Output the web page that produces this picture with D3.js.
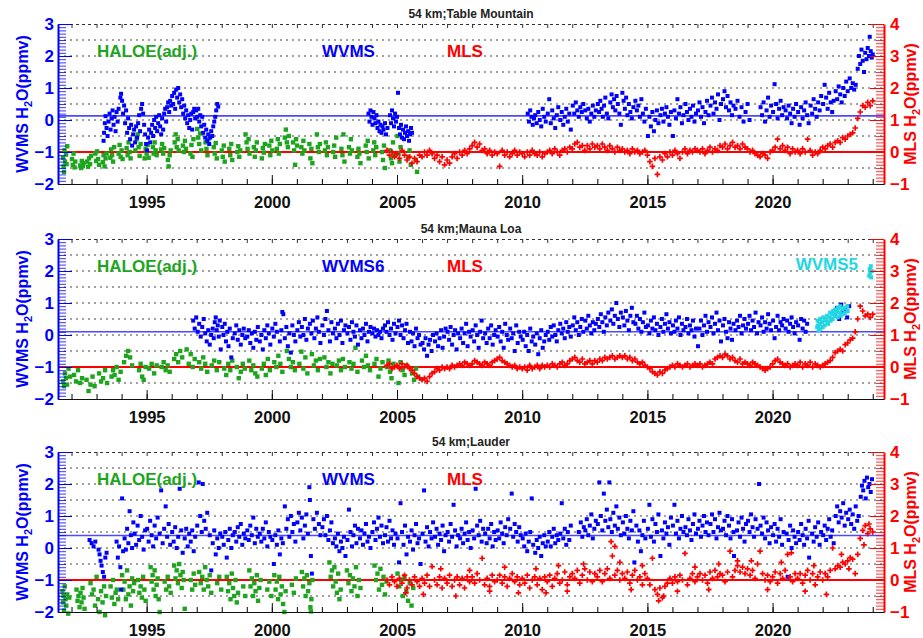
<!DOCTYPE html>
<html>
<head>
<meta charset="utf-8">
<script src="https://cdn.jsdelivr.net/npm/d3@7"></script>
<style>
  body { margin: 0; background: #fff; }
  svg { display: block; font-family: "Liberation Sans", Arial, Helvetica, sans-serif; font-weight: bold; }
</style>
</head>
<body>
<svg id="chart" width="923" height="638"></svg>
<script>
// ---------------------------------------------------------------------------
// Water vapour anomalies at 54 km: ground-based WVMS, HALOE (adjusted) and MLS.
// WVMS / HALOE values are on the left axis (ppmv), MLS on the right axis (ppmv).
// ---------------------------------------------------------------------------

const STATIONS = ["54 km;Table Mountain", "54 km;Mauna Loa", "54 km;Lauder"];
const WVMS_LABELS = ["WVMS", "WVMS6", "WVMS"];
const WVMS_MEANS = [0.13, 0.10, 0.39];     // long-term WVMS mean (left axis)
const MLS_REFERENCE = 0;                   // MLS zero line (right axis)
const X_TICKS = [1995, 2000, 2005, 2010, 2015, 2020];
const LEFT_TICKS = [-2, -1, 0, 1, 2, 3];
const RIGHT_TICKS = [-1, 0, 1, 2, 3, 4];
const GRID_LEVELS = [-1.5, -1, -0.5, 0, 0.5, 1, 1.5, 2, 2.5];

// Sampling dates shared by the MLS series
const MLS_DATES = [2004.6,2004.7,2004.8,2004.9,
2005.0,2005.1,2005.2,2005.3,2005.4,2005.5,2005.6,2005.7,2005.8,2005.9,
2006.0,2006.1,2006.2,2006.3,2006.4,2006.5,2006.6,2006.7,2006.8,2006.9,
2007.0,2007.1,2007.2,2007.3,2007.4,2007.5,2007.6,2007.7,2007.8,2007.9,
2008.0,2008.1,2008.2,2008.3,2008.4,2008.5,2008.6,2008.7,2008.8,2008.9,
2009.0,2009.1,2009.2,2009.3,2009.4,2009.5,2009.6,2009.7,2009.8,2009.9,
2010.0,2010.1,2010.2,2010.3,2010.4,2010.5,2010.6,2010.7,2010.8,2010.9,
2011.0,2011.1,2011.2,2011.3,2011.4,2011.5,2011.6,2011.7,2011.8,2011.9,
2012.0,2012.1,2012.2,2012.3,2012.4,2012.5,2012.6,2012.7,2012.8,2012.9,
2013.0,2013.1,2013.2,2013.3,2013.4,2013.5,2013.6,2013.7,2013.8,2013.9,
2014.0,2014.1,2014.2,2014.3,2014.4,2014.5,2014.6,2014.7,2014.8,2014.9,
2015.0,2015.1,2015.2,2015.3,2015.4,2015.5,2015.6,2015.7,2015.8,2015.9,
2016.0,2016.1,2016.2,2016.3,2016.4,2016.5,2016.6,2016.7,2016.8,2016.9,
2017.0,2017.1,2017.2,2017.3,2017.4,2017.5,2017.6,2017.7,2017.8,2017.9,
2018.0,2018.1,2018.2,2018.3,2018.4,2018.5,2018.6,2018.7,2018.8,2018.9,
2019.0,2019.1,2019.2,2019.3,2019.4,2019.5,2019.6,2019.7,2019.8,2019.9,
2020.0,2020.1,2020.2,2020.3,2020.4,2020.5,2020.6,2020.7,2020.8,2020.9,
2021.0,2021.1,2021.2,2021.3,2021.4,2021.5,2021.6,2021.7,2021.8,2021.9,
2022.0,2022.1,2022.2,2022.3,2022.4,2022.5,2022.6,2022.7,2022.8,2022.9,
2023.0,2023.1,2023.2,2023.3,2023.4,2023.5,2023.6,2023.7,2023.8,2023.9,
2024.0];

// ---------------- Table Mountain ----------------
const TM_HALOE = [
[1991.66,-1.18],[1991.68,-1.45],[1991.70,-1.62],[1991.72,-0.95],[1991.74,-1.30],[1991.78,-1.08],[1991.80,-1.38],[1991.83,-0.82],
[1992.02,-1.22],[1992.05,-1.40],[1992.08,-1.05],[1992.12,-1.48],[1992.15,-1.30],
[1992.35,-1.42],[1992.38,-1.50],[1992.41,-1.28],[1992.45,-1.44],[1992.48,-1.35],
[1992.62,-1.30],[1992.66,-1.46],[1992.70,-1.20],[1992.74,-1.38],[1992.78,-1.12],
[1992.95,-1.05],[1992.98,-1.28],[1993.02,-0.98],[1993.06,-1.22],[1993.10,-1.40],
[1993.25,-1.32],[1993.28,-1.10],[1993.32,-1.45],[1993.36,-1.20],[1993.40,-1.05],
[1993.55,-1.18],[1993.58,-0.92],[1993.62,-1.10],[1993.66,-1.30],[1993.70,-0.85],
[1993.88,-1.05],[1993.92,-0.78],[1993.96,-1.15],[1994.00,-0.95],[1994.04,-1.22],
[1994.20,-0.88],[1994.24,-1.10],[1994.28,-0.70],[1994.32,-1.00],[1994.36,-1.20],
[1994.55,-0.95],[1994.60,-0.60],[1994.64,-0.45],[1994.68,-0.85],[1994.72,-1.12],[1994.76,-0.75],
[1994.92,-1.20],[1994.96,-0.90],[1995.00,-1.05],[1995.04,-0.78],[1995.08,-1.18],
[1995.25,-0.85],[1995.28,-1.05],[1995.32,-0.70],[1995.36,-0.95],[1995.40,-1.10],
[1995.58,-0.92],[1995.62,-0.75],[1995.66,-1.05],[1995.70,-0.88],
[1995.85,-1.25],[1995.88,-1.45],[1995.92,-1.10],[1995.96,-0.95],
[1996.12,-0.70],[1996.16,-0.45],[1996.20,-0.85],[1996.24,-0.60],[1996.28,-0.95],
[1996.45,-0.80],[1996.49,-1.00],[1996.53,-0.65],[1996.57,-0.90],
[1996.75,-1.05],[1996.79,-0.78],[1996.83,-1.15],[1996.87,-0.60],
[1997.02,-0.28],[1997.06,-0.55],[1997.10,-0.75],[1997.14,-0.42],[1997.18,-0.95],
[1997.35,-0.70],[1997.39,-0.90],[1997.43,-1.10],[1997.47,-0.60],
[1997.68,-0.85],[1997.72,-1.05],[1997.76,-0.72],[1997.80,-1.20],
[1998.00,-0.95],[1998.04,-1.15],[1998.08,-0.80],[1998.12,-1.30],
[1998.30,-0.90],[1998.34,-1.10],[1998.38,-0.75],[1998.42,-1.25],
[1998.62,-1.00],[1998.66,-0.82],[1998.70,-1.15],[1998.74,-0.95],
[1998.95,-0.45],[1998.99,-0.70],[1999.03,-0.90],[1999.07,-0.60],[1999.11,-1.05],
[1999.28,-0.85],[1999.32,-1.15],[1999.36,-0.95],[1999.40,-0.70],
[1999.60,-1.20],[1999.64,-0.88],[1999.68,-1.02],[1999.72,-0.75],
[1999.90,-0.80],[1999.94,-1.10],[1999.98,-0.65],[2000.02,-0.95],
[2000.20,-0.90],[2000.24,-0.60],[2000.28,-1.05],[2000.32,-0.75],
[2000.52,-0.55],[2000.56,-0.30],[2000.60,-0.70],[2000.64,-0.85],[2000.68,-0.50],
[2000.85,-0.70],[2000.89,-0.95],[2000.93,-1.40],[2000.97,-0.60],[2001.01,-0.80],
[2001.18,-0.85],[2001.22,-1.05],[2001.26,-0.65],[2001.30,-0.95],
[2001.50,-0.75],[2001.54,-1.20],[2001.58,-0.90],[2001.62,-1.35],
[2001.80,-0.45],[2001.84,-0.85],[2001.88,-1.00],[2001.92,-0.75],
[2002.12,-0.95],[2002.16,-0.70],[2002.20,-1.10],[2002.24,-0.85],
[2002.45,-1.00],[2002.49,-0.80],[2002.53,-1.15],[2002.57,-0.55],
[2002.78,-0.90],[2002.82,-1.10],[2002.86,-0.45],[2002.90,-1.30],
[2003.08,-0.85],[2003.12,-1.05],[2003.16,-0.60],[2003.20,-0.95],
[2003.42,-1.15],[2003.46,-0.90],[2003.50,-1.05],[2003.54,-1.35],
[2003.75,-0.80],[2003.79,-1.00],[2003.83,-0.65],[2003.87,-1.20],
[2004.05,-0.95],[2004.09,-0.70],[2004.13,-1.10],[2004.17,-0.85],
[2004.40,-1.00],[2004.44,-1.25],[2004.48,-0.80],[2004.52,-1.50],
[2004.72,-0.95],[2004.76,-1.20],[2004.80,-1.35],[2004.84,-0.70],[2004.88,-1.10],
[2005.02,-0.50],[2005.06,-1.05],[2005.10,-1.30],[2005.14,-0.85],
[2005.45,-1.15],[2005.50,-0.95],[2005.55,-1.40],[2005.75,-1.25],[2005.80,-1.62]];

const TM_WVMS = [
[1993.28,-0.65],[1993.30,-0.40],[1993.33,-0.10],[1993.36,0.12],[1993.40,-0.25],[1993.44,-0.50],[1993.48,-0.05],[1993.52,0.20],
[1993.56,-0.30],[1993.60,0.05],[1993.64,0.30],[1993.68,-0.15],[1993.72,0.10],[1993.76,-0.35],[1993.80,0.25],[1993.84,-0.05],
[1993.88,0.35],[1993.95,0.70],[1993.98,0.82],[1994.02,0.60],[1994.06,0.20],[1994.10,0.45],[1994.14,-0.10],[1994.18,0.30],
[1994.22,-0.40],[1994.26,0.05],[1994.30,-0.25],[1994.34,-0.60],[1994.38,-0.15],[1994.42,-0.80],[1994.46,-0.45],[1994.50,-0.30],
[1994.54,-0.70],[1994.58,-0.20],[1994.62,-0.55],[1994.66,-0.10],[1994.70,0.15],[1994.74,-0.35],[1994.78,0.35],[1994.82,0.50],
[1994.86,0.20],[1994.90,-0.15],[1994.94,-0.45],[1994.98,-0.75],[1995.02,-0.95],[1995.06,-0.55],[1995.10,-0.30],[1995.14,-0.70],
[1995.18,-0.40],[1995.22,-0.15],[1995.26,-0.50],[1995.30,0.00],[1995.34,-0.25],[1995.38,0.10],[1995.42,-0.35],[1995.46,-0.10],
[1995.50,0.15],[1995.54,-0.20],[1995.58,-0.45],[1995.62,0.05],[1995.66,-0.30],[1995.70,0.20],[1995.74,0.35],[1995.78,-0.05],
[1995.82,0.40],[1995.86,0.55],[1995.90,0.25],[1995.94,0.60],[1995.98,0.45],[1996.02,0.75],[1996.06,0.50],[1996.10,0.85],
[1996.14,0.35],[1996.18,0.95],[1996.22,0.70],[1996.26,1.00],[1996.30,0.55],[1996.34,0.80],[1996.38,0.40],[1996.42,0.65],
[1996.46,0.20],[1996.50,0.45],[1996.54,0.05],[1996.58,0.30],[1996.62,-0.10],[1996.66,0.15],[1996.70,-0.25],[1996.74,0.00],
[1996.78,0.20],[1996.82,-0.30],[1996.86,0.25],[1996.90,0.35],[1996.94,0.05],[1996.98,0.30],[1997.02,0.10],[1997.06,0.35],
[1997.10,-0.05],[1997.14,0.15],[1997.18,-0.20],[1997.22,0.10],[1997.26,-0.40],[1997.30,-0.15],[1997.34,-0.55],[1997.38,-0.30],
[1997.42,-0.65],[1997.46,-0.45],[1997.50,-0.75],[1997.54,-0.55],[1997.58,-0.35],[1997.62,-0.50],[1997.66,-0.20],[1997.70,-0.05],
[1997.74,0.10],[1997.78,0.30],[1997.82,0.50],[1997.86,0.42],
[2003.86,0.20],[2003.90,-0.05],[2003.94,0.30],[2003.98,0.10],[2004.02,-0.15],[2004.06,0.25],[2004.10,0.05],[2004.14,-0.10],
[2004.18,0.15],[2004.22,-0.25],[2004.26,-0.05],[2004.30,-0.35],[2004.34,-0.15],[2004.38,-0.40],[2004.42,-0.20],[2004.46,-0.30],
[2004.52,-0.10],[2004.56,-0.45],[2004.62,-0.25],[2004.72,0.15],[2004.76,-0.10],[2004.80,0.30],[2004.84,0.05],[2004.88,-0.20],
[2004.92,0.20],[2004.96,-0.05],[2005.00,0.10],[2005.04,0.85],[2005.08,-0.25],[2005.12,-0.45],[2005.16,-0.15],[2005.20,-0.55],
[2005.24,-0.30],[2005.28,-0.60],[2005.32,-0.40],[2005.36,-0.20],[2005.40,-0.50],[2005.44,-0.35],[2005.48,-0.65],[2005.52,-0.45],
[2005.56,-0.25],[2005.60,-0.40],
[2010.22,0.20],[2010.27,-0.05],[2010.32,0.30],[2010.37,0.10],[2010.42,-0.15],[2010.47,0.05],
[2010.52,0.15],[2010.58,-0.10],[2010.64,0.25],[2010.70,0.00],[2010.76,-0.20],[2010.82,0.35],[2010.88,0.10],[2010.94,-0.05],
[2011.02,0.20],[2011.08,0.65],[2011.14,-0.10],[2011.20,0.30],[2011.26,0.05],[2011.32,-0.25],[2011.38,0.15],[2011.44,0.40],
[2011.52,0.00],[2011.58,0.25],[2011.64,-0.15],[2011.70,0.10],[2011.76,0.35],[2011.82,-0.05],[2011.88,0.20],[2011.94,-0.30],
[2012.02,0.45],[2012.08,0.20],[2012.14,0.55],[2012.20,0.30],[2012.26,0.10],[2012.32,0.40],[2012.38,0.25],[2012.44,0.50],
[2012.52,0.30],[2012.58,0.05],[2012.64,0.35],[2012.70,-0.05],[2012.76,0.20],[2012.82,0.45],[2012.88,0.10],[2012.94,0.30],
[2013.02,0.50],[2013.07,0.25],[2013.12,0.60],[2013.17,0.35],[2013.22,0.10],[2013.27,0.45],[2013.32,0.70],[2013.38,0.20],[2013.44,0.05],
[2013.52,0.55],[2013.57,0.80],[2013.62,0.40],[2013.67,0.65],[2013.72,0.30],[2013.77,0.75],[2013.82,0.50],[2013.88,0.20],[2013.94,-0.15],
[2014.00,0.85],[2014.05,0.60],[2014.10,0.35],[2014.15,0.70],[2014.20,0.15],[2014.26,0.50],[2014.32,0.25],[2014.38,0.05],[2014.44,0.40],
[2014.52,0.60],[2014.58,0.30],[2014.64,0.45],[2014.70,0.10],[2014.76,0.65],[2014.82,0.20],[2014.88,-0.05],[2014.94,0.35],
[2015.02,-0.50],[2015.08,0.10],[2015.14,-0.20],[2015.20,0.25],[2015.26,-0.35],[2015.32,0.00],[2015.38,0.30],[2015.44,-0.10],
[2015.52,0.15],[2015.58,0.35],[2015.64,-0.05],[2015.70,0.20],[2015.76,0.40],[2015.82,0.10],[2015.88,-0.15],[2015.94,0.25],
[2016.02,-0.50],[2016.08,0.30],[2016.14,0.05],[2016.20,0.65],[2016.26,0.20],[2016.32,0.40],[2016.38,-0.10],[2016.44,0.15],
[2016.52,0.50],[2016.58,0.25],[2016.64,0.00],[2016.70,0.35],[2016.76,0.10],[2016.82,0.45],[2016.88,-0.05],[2016.94,0.20],
[2017.02,0.30],[2017.08,0.55],[2017.14,0.10],[2017.20,0.40],[2017.26,-0.10],[2017.32,0.25],[2017.38,0.60],[2017.44,0.15],
[2017.52,0.45],[2017.58,0.70],[2017.64,0.20],[2017.70,0.55],[2017.76,0.35],[2017.82,0.80],[2017.88,0.00],[2017.94,0.50],
[2018.02,0.65],[2018.08,0.90],[2018.14,0.40],[2018.20,0.75],[2018.26,0.30],[2018.32,0.55],[2018.38,0.15],[2018.44,0.45],
[2018.52,0.35],[2018.60,0.60],[2018.68,0.10],[2018.76,0.40],[2018.84,-0.05],[2018.92,0.25],[2019.00,0.50],[2019.08,0.00],
[2019.52,0.40],[2019.58,0.15],[2019.64,0.55],[2019.70,-0.05],[2019.76,0.30],[2019.82,0.70],[2019.88,0.10],[2019.94,0.45],
[2020.02,0.25],[2020.08,1.12],[2020.14,0.50],[2020.20,0.05],[2020.26,0.35],[2020.32,0.60],[2020.38,0.15],[2020.44,0.40],
[2020.52,0.30],[2020.58,0.05],[2020.64,0.45],[2020.70,0.20],[2020.76,-0.10],[2020.82,0.35],[2020.88,0.10],[2020.94,0.50],
[2021.02,0.25],[2021.08,-0.15],[2021.14,0.40],[2021.20,0.05],[2021.26,0.30],[2021.32,0.55],[2021.38,0.15],[2021.44,-0.10],
[2021.52,0.45],[2021.58,0.20],[2021.64,0.65],[2021.70,0.35],[2021.76,0.10],[2021.82,0.55],[2021.88,0.30],[2021.94,0.75],
[2022.02,0.50],[2022.08,1.10],[2022.14,0.70],[2022.20,0.35],[2022.26,0.85],[2022.32,0.55],[2022.38,0.25],[2022.44,0.60],
[2022.52,0.90],[2022.58,0.65],[2022.64,1.05],[2022.70,0.80],[2022.76,0.55],[2022.82,1.00],[2022.88,0.75],[2022.94,1.20],[2023.00,0.90],
[2023.08,1.30],[2023.14,1.00],[2023.20,1.15],[2023.26,0.95],[2023.32,1.10],
[2023.40,1.60],[2023.45,2.00],[2023.50,1.75],[2023.55,2.20],[2023.60,1.85],[2023.65,1.50],
[2023.70,2.10],[2023.75,1.90],[2023.80,2.25],[2023.85,2.00],[2023.88,2.60],[2023.92,2.15],[2023.96,1.95],[2024.00,2.05]];

const TM_MLS = [
0.05,-0.10,0.00,-0.15,
-0.05,-0.20,0.05,-0.10,-0.25,-0.15,-0.35,-0.20,-0.30,-0.10,
-0.15,0.00,-0.10,0.05,-0.05,-0.20,-0.10,-0.30,-0.15,-0.40,
-0.25,-0.35,-0.15,-0.05,-0.20,0.00,-0.10,0.05,-0.05,0.10,
0.20,0.30,0.15,0.25,0.05,0.10,-0.05,0.05,-0.10,0.00,
-0.05,-0.45,0.05,-0.10,0.00,-0.15,-0.05,0.05,-0.10,0.00,
-0.05,-0.15,0.00,-0.10,0.05,-0.05,-0.10,0.00,-0.15,-0.05,
0.00,0.05,-0.05,0.10,0.00,-0.10,0.05,0.10,0.00,0.15,
0.10,0.25,0.30,0.15,0.20,0.05,0.20,0.10,0.25,0.15,
0.20,0.10,0.25,0.15,0.05,0.20,0.10,0.00,0.15,0.05,
0.10,0.00,0.05,-0.05,0.10,0.00,0.05,-0.05,0.00,0.05,
-0.10,-0.30,-0.45,-0.20,-0.70,-0.15,-0.25,-0.05,-0.15,0.00,
-0.10,0.05,-0.05,-0.20,0.00,0.10,-0.05,0.05,0.00,0.10,
0.05,0.00,0.10,-0.05,0.05,0.15,0.00,0.10,0.05,0.20,
0.15,0.25,0.10,0.20,0.30,0.15,0.20,0.10,0.25,0.15,
0.10,0.00,0.05,-0.05,-0.10,-0.15,-0.05,-0.10,-0.20,0.00,
0.05,0.15,0.40,0.10,0.20,0.05,0.15,-0.05,0.10,0.00,
0.05,-0.05,0.10,0.00,0.40,0.05,-0.10,0.00,-0.05,0.05,
0.15,0.10,0.20,0.25,0.15,0.30,0.35,0.30,0.45,0.40,
0.50,0.55,0.60,0.75,1.05,1.25,1.45,1.40,1.55,1.45,
1.60];

// ---------------- Mauna Loa ----------------
const ML_HALOE = [
[1991.66,-1.45],[1991.70,-1.60],[1991.74,-1.20],[1991.78,-1.35],[1991.82,-1.55],[1991.88,-1.05],[1991.94,-1.30],
[1992.10,-1.25],[1992.18,-1.45],[1992.26,-1.10],[1992.34,-1.50],[1992.42,-1.35],
[1992.60,-1.40],[1992.68,-1.75],[1992.76,-1.55],[1992.84,-1.30],[1992.92,-1.60],
[1993.10,-1.20],[1993.18,-1.45],[1993.26,-1.35],[1993.34,-1.10],[1993.42,-1.50],
[1993.60,-1.30],[1993.66,-1.10],[1993.72,-1.25],[1993.80,-1.00],[1993.88,-1.40],[1993.96,-1.15],
[1994.10,-0.85],[1994.18,-0.65],[1994.26,-0.50],[1994.34,-0.70],[1994.42,-0.95],
[1994.70,-1.10],[1994.76,-0.90],[1994.82,-1.30],[1994.88,-1.40],[1994.96,-1.00],
[1995.10,-1.05],[1995.20,-0.90],[1995.30,-1.20],[1995.40,-0.95],
[1995.60,-1.00],[1995.68,-0.85],[1995.76,-1.10],[1995.84,-0.95],[1995.92,-1.15],
[1996.10,-0.75],[1996.18,-0.60],[1996.26,-0.85],[1996.34,-0.50],[1996.42,-0.70],
[1996.60,-0.45],[1996.68,-0.90],[1996.76,-0.60],[1996.84,-1.00],[1996.92,-0.75],
[1997.10,-0.85],[1997.18,-1.05],[1997.26,-0.70],[1997.34,-0.90],[1997.42,-1.15],
[1997.60,-0.95],[1997.70,-0.80],[1997.80,-1.10],[1997.90,-0.85],
[1998.10,-1.05],[1998.18,-1.25],[1998.26,-0.90],[1998.34,-1.10],[1998.42,-0.80],
[1998.60,-1.00],[1998.68,-1.35],[1998.76,-1.15],[1998.84,-0.90],[1998.92,-1.05],
[1999.10,-0.80],[1999.18,-1.10],[1999.26,-0.95],[1999.34,-1.20],[1999.42,-1.30],
[1999.60,-1.05],[1999.68,-0.90],[1999.76,-1.25],[1999.84,-0.75],[1999.92,-1.10],
[2000.10,-0.85],[2000.18,-1.00],[2000.26,-0.65],[2000.34,-0.90],[2000.42,-1.15],
[2000.60,-0.50],[2000.68,-0.75],[2000.76,-1.00],[2000.84,-0.85],[2000.92,-1.10],
[2001.10,-0.90],[2001.18,-0.52],[2001.26,-1.05],[2001.34,-0.70],[2001.42,-1.20],
[2001.60,-0.60],[2001.68,-0.95],[2001.76,-0.80],[2001.84,-1.10],[2001.92,-0.75],
[2002.10,-0.70],[2002.18,-1.00],[2002.26,-0.85],[2002.34,-1.20],[2002.42,-0.90],
[2002.60,-0.95],[2002.68,-0.80],[2002.76,-1.10],[2002.84,-0.75],[2002.92,-1.00],
[2003.10,-0.85],[2003.18,-1.05],[2003.26,-0.90],[2003.34,-0.40],[2003.42,-1.15],
[2003.60,-0.80],[2003.68,-1.00],[2003.76,-0.65],[2003.84,-0.95],[2003.92,-1.10],
[2004.10,-0.90],[2004.18,-0.75],[2004.26,-1.30],[2004.34,-1.05],[2004.42,-0.85],
[2004.60,-1.00],[2004.66,-0.80],[2004.72,-1.15],[2004.78,-1.35],[2004.86,-0.90],
[2005.06,-1.50],[2005.14,-0.85],[2005.22,-1.10],[2005.30,-1.25],[2005.38,-0.95],
[2005.60,-1.20],[2005.68,-1.40],[2005.76,-1.05],[2005.84,-1.30]];

const ML_WVMS6 = [
[1996.86,0.45],[1996.92,0.20],[1996.98,0.55],[1997.04,0.10],[1997.10,0.35],[1997.16,-0.05],[1997.22,0.25],[1997.28,0.50],
[1997.34,0.05],[1997.40,-0.20],[1997.46,0.15],[1997.52,-0.30],[1997.58,0.00],[1997.64,0.20],[1997.68,-0.10],
[1997.72,0.40],[1997.76,0.55],[1997.80,0.15],[1997.84,0.30],[1997.88,-0.05],[1997.92,0.45],[1997.96,-0.45],
[1998.02,0.25],[1998.07,0.00],[1998.12,0.35],[1998.17,-0.20],[1998.22,0.10],[1998.27,-0.35],[1998.32,0.20],[1998.38,-0.70],[1998.44,-0.10],
[1998.52,0.05],[1998.58,0.30],[1998.64,-0.15],[1998.70,0.15],[1998.76,-0.30],[1998.82,0.00],[1998.88,0.20],[1998.94,-0.10],
[1999.02,-0.05],[1999.08,0.15],[1999.14,-0.25],[1999.20,0.05],[1999.26,-0.40],[1999.32,0.10],[1999.38,-0.15],[1999.44,0.25],
[1999.52,-0.20],[1999.58,0.00],[1999.64,-0.45],[1999.70,0.15],[1999.76,-0.10],[1999.82,0.30],[1999.88,0.05],[1999.94,-0.30],
[2000.02,0.20],[2000.08,-0.05],[2000.14,0.35],[2000.20,0.10],[2000.42,0.72],[2000.46,0.65],[2000.32,-0.20],[2000.38,0.15],
[2000.52,-0.10],[2000.58,0.25],[2000.64,-0.35],[2000.70,0.05],[2000.76,-0.55],[2000.82,0.30],[2000.88,0.00],[2000.94,-0.20],
[2001.02,0.15],[2001.08,0.40],[2001.14,-0.05],[2001.20,0.25],[2001.26,0.00],[2001.32,0.50],[2001.38,-0.15],[2001.44,0.20],
[2001.52,0.35],[2001.58,0.05],[2001.64,0.45],[2001.70,-0.10],[2001.76,0.20],[2001.82,0.55],[2001.88,0.10],[2001.94,-0.25],
[2002.02,0.30],[2002.08,0.00],[2002.14,0.50],[2002.20,0.75],[2002.26,0.15],[2002.32,-0.20],[2002.38,0.40],[2002.44,0.05],
[2002.52,0.20],[2002.58,-0.10],[2002.64,0.35],[2002.70,0.00],[2002.76,0.45],[2002.82,-0.25],[2002.88,0.15],[2002.94,0.30],
[2003.02,0.05],[2003.08,0.25],[2003.14,-0.15],[2003.20,0.40],[2003.26,0.10],[2003.32,-0.05],[2003.38,0.30],[2003.44,-0.30],
[2003.52,0.15],[2003.58,-0.10],[2003.64,0.20],[2003.70,0.00],[2003.76,0.35],[2003.82,-0.20],[2003.88,0.10],[2003.94,0.25],
[2004.02,0.05],[2004.08,0.20],[2004.14,-0.05],[2004.20,0.15],[2004.26,0.00],[2004.32,0.10],[2004.38,-0.10],[2004.44,0.20],
[2004.52,0.30],[2004.58,0.10],[2004.64,0.40],[2004.70,0.00],[2004.76,0.20],[2004.82,-0.15],[2004.88,0.35],[2004.94,0.05],
[2005.02,0.25],[2005.08,0.45],[2005.14,0.00],[2005.20,0.30],[2005.26,-0.10],[2005.32,0.15],[2005.38,0.35],[2005.44,-0.25],
[2005.52,0.10],[2005.58,-0.20],[2005.64,0.05],[2005.70,-0.35],[2005.76,0.20],[2005.82,-0.10],[2005.88,0.00],[2005.94,-0.30],
[2006.02,-0.25],[2006.08,-0.45],[2006.14,-0.10],[2006.20,-0.65],[2006.26,-0.30],[2006.32,-0.15],[2006.38,-0.50],[2006.44,0.00],
[2006.52,-0.20],[2006.58,0.05],[2006.64,-0.35],[2006.70,-0.10],[2006.76,0.15],[2006.82,-0.40],[2006.88,-0.05],[2006.94,0.20],
[2007.02,0.10],[2007.08,-0.15],[2007.14,0.25],[2007.20,-0.30],[2007.26,0.00],[2007.32,0.15],[2007.38,-0.45],[2007.44,0.05],
[2007.52,-0.10],[2007.58,0.20],[2007.64,-0.25],[2007.70,0.05],[2007.76,0.35],[2007.82,-0.35],[2007.88,0.10],[2007.94,-0.05],
[2008.02,0.15],[2008.08,-0.20],[2008.14,0.30],[2008.20,0.00],[2008.26,-0.40],[2008.32,0.10],[2008.38,0.45],[2008.44,-0.10],
[2008.52,0.05],[2008.58,-0.25],[2008.64,0.20],[2008.70,-0.10],[2008.76,0.30],[2008.82,-0.30],[2008.88,0.00],[2008.94,0.15],
[2009.02,-0.05],[2009.08,0.25],[2009.14,-0.20],[2009.20,0.10],[2009.26,-0.40],[2009.32,0.35],[2009.38,0.00],[2009.44,-0.15],
[2009.52,0.20],[2009.58,-0.10],[2009.64,0.05],[2009.70,-0.50],[2009.76,0.30],[2009.82,-0.25],[2009.88,0.10],[2009.94,-0.05],
[2010.02,-0.15],[2010.08,0.10],[2010.14,-0.35],[2010.20,0.00],[2010.26,-0.50],[2010.32,0.20],[2010.38,-0.20],[2010.44,-0.05],
[2010.52,-0.30],[2010.58,0.05],[2010.64,-0.60],[2010.70,-0.10],[2010.76,0.15],[2010.82,-0.40],[2010.88,-0.20],[2010.94,0.00],
[2011.02,0.10],[2011.08,-0.15],[2011.14,0.25],[2011.20,-0.05],[2011.26,0.30],[2011.32,0.00],[2011.38,-0.20],[2011.44,0.15],
[2011.52,0.35],[2011.58,0.05],[2011.64,0.20],[2011.70,-0.10],[2011.76,0.40],[2011.82,0.10],[2011.88,0.25],[2011.94,-0.05],
[2012.02,0.30],[2012.08,0.55],[2012.14,0.15],[2012.20,0.40],[2012.26,0.00],[2012.32,0.25],[2012.38,0.50],[2012.44,0.10],
[2012.52,0.45],[2012.58,0.20],[2012.64,0.60],[2012.70,0.30],[2012.76,0.05],[2012.82,0.40],[2012.88,0.15],[2012.94,0.35],
[2013.02,0.50],[2013.08,0.25],[2013.14,0.65],[2013.20,0.40],[2013.26,0.10],[2013.32,0.55],[2013.38,0.30],[2013.44,0.70],
[2013.52,0.45],[2013.58,0.80],[2013.64,0.35],[2013.70,0.60],[2013.76,1.00],[2013.82,0.50],[2013.88,0.25],[2013.94,0.70],
[2014.02,0.55],[2014.08,0.30],[2014.14,0.75],[2014.20,0.45],[2014.26,0.15],[2014.32,0.60],[2014.38,0.85],[2014.44,0.40],
[2014.52,0.35],[2014.58,0.60],[2014.64,0.20],[2014.70,0.50],[2014.76,0.10],[2014.82,0.40],[2014.88,0.70],[2014.94,0.25],
[2015.02,0.30],[2015.08,0.05],[2015.14,0.45],[2015.20,0.20],[2015.26,0.55],[2015.32,0.15],[2015.38,0.35],[2015.44,0.00],
[2015.52,0.25],[2015.58,0.50],[2015.64,0.10],[2015.70,0.35],[2015.76,0.65],[2015.82,0.20],[2015.88,0.40],[2015.94,0.05],
[2016.02,0.30],[2016.08,0.10],[2016.14,0.45],[2016.20,0.20],[2016.26,0.55],[2016.32,0.00],[2016.38,0.35],[2016.44,0.15],
[2016.52,0.25],[2016.58,0.50],[2016.64,0.05],[2016.70,0.30],[2016.76,0.15],[2016.82,0.45],[2016.88,-0.05],[2016.94,0.20],
[2017.02,-0.35],[2017.08,0.20],[2017.14,0.45],[2017.20,0.00],[2017.26,0.30],[2017.32,0.60],[2017.38,0.10],[2017.44,0.40],
[2017.52,0.25],[2017.58,0.55],[2017.64,0.05],[2017.70,0.35],[2017.76,0.70],[2017.82,0.15],[2017.88,0.45],[2017.94,-0.20],
[2018.02,0.30],[2018.08,0.50],[2018.14,0.10],[2018.20,-0.10],[2018.26,0.40],[2018.32,0.20],[2018.38,-0.15],[2018.44,0.35],
[2018.52,0.15],[2018.58,0.45],[2018.64,0.25],[2018.70,0.60],[2018.76,0.05],[2018.82,0.30],[2018.88,0.50],[2018.94,0.20],
[2019.02,0.35],[2019.08,0.60],[2019.14,0.15],[2019.20,0.45],[2019.26,0.25],[2019.32,0.70],[2019.38,0.05],[2019.44,0.40],
[2019.52,0.30],[2019.58,0.55],[2019.64,0.10],[2019.70,0.40],[2019.76,0.20],[2019.82,0.65],[2019.88,0.35],[2019.94,0.15],
[2020.02,0.45],[2020.08,-0.10],[2020.14,0.25],[2020.20,0.60],[2020.26,0.15],[2020.32,0.40],[2020.38,0.30],[2020.44,0.50],
[2020.52,0.20],[2020.58,0.45],[2020.64,0.10],[2020.70,0.35],[2020.76,0.55],[2020.82,0.25],[2020.88,0.05],[2020.94,0.40],
[2021.02,0.30],[2021.08,-0.15],[2021.14,0.50],[2021.20,0.20],[2021.26,0.45],[2021.32,0.10],[2021.38,0.35],
[2022.50,0.60],[2022.58,0.85],[2022.66,0.50],[2022.74,0.95],[2022.82,0.70],[2022.90,0.80],[2022.98,0.55],[2023.06,0.90]];

const ML_WVMS5 = [
[2021.78,0.25],[2021.80,0.45],[2021.82,0.30],[2021.84,0.15],[2021.88,0.35],[2021.90,0.50],[2021.92,0.20],
[2021.98,0.40],[2022.00,0.25],[2022.02,0.55],[2022.08,0.30],[2022.10,0.50],[2022.12,0.45],
[2022.18,0.60],[2022.20,0.40],[2022.22,0.35],[2022.28,0.55],[2022.30,0.70],[2022.32,0.45],
[2022.38,0.65],[2022.40,0.50],[2022.42,0.75],[2022.48,0.60],[2022.50,0.80],[2022.52,0.70],
[2022.58,0.75],[2022.60,0.55],[2022.62,0.85],[2022.68,0.70],[2022.70,0.90],[2022.72,0.60],
[2022.78,0.80],[2022.80,0.65],[2022.88,0.85],[2022.90,0.70],[2022.98,0.90],[2023.00,0.75],
[2023.86,1.85],[2023.88,2.05],[2023.90,1.95],[2023.92,2.15],[2023.94,1.80],[2023.96,2.00]];

const ML_MLS = [
0.05,0.10,-0.05,0.00,
0.05,-0.05,0.10,0.00,0.05,-0.05,-0.10,-0.20,-0.30,-0.35,
-0.40,-0.35,-0.45,-0.30,-0.20,-0.15,-0.05,-0.10,0.00,-0.05,
0.00,-0.05,0.05,0.00,0.05,0.10,0.05,0.15,0.10,0.05,
0.10,0.20,0.15,0.10,0.05,0.15,0.10,0.05,0.15,0.20,
0.25,0.30,0.20,0.15,0.10,0.05,0.00,0.05,-0.05,0.00,
-0.05,0.00,-0.10,0.05,-0.05,0.00,0.05,-0.05,0.05,0.00,
0.05,0.00,0.10,0.05,0.00,0.10,0.15,0.05,0.10,0.20,
0.25,0.30,0.20,0.15,0.25,0.10,0.15,0.20,0.10,0.20,
0.15,0.25,0.20,0.30,0.25,0.30,0.35,0.25,0.30,0.35,
0.30,0.35,0.25,0.30,0.20,0.25,0.15,0.10,0.15,0.05,
0.00,-0.05,-0.15,-0.20,-0.25,-0.15,-0.20,-0.10,-0.05,0.00,
0.05,0.00,0.10,0.05,0.00,0.05,0.10,0.00,0.05,0.10,
0.05,0.10,0.00,0.05,0.10,0.15,0.10,0.25,0.30,0.35,
0.30,0.40,0.35,0.25,0.30,0.20,0.15,0.25,0.10,0.15,
0.10,0.05,0.15,0.10,0.05,0.00,-0.05,-0.10,-0.05,0.00,
0.10,0.20,0.25,0.15,0.10,0.05,0.10,0.00,0.05,0.10,
0.05,0.15,0.00,0.10,0.05,0.15,0.00,0.10,0.05,0.00,
0.05,0.10,0.15,0.20,0.30,0.45,0.50,0.55,0.50,0.70,
0.75,0.85,0.90,1.10,1.50,1.90,1.75,1.60,1.65,1.55,
1.65];

// ---------------- Lauder ----------------
const LD_HALOE = [
[1991.64,-1.35],[1991.66,-1.70],[1991.68,-1.50],[1991.70,-1.95],[1991.73,-1.20],[1991.76,-1.60],[1991.79,-1.80],[1991.83,-1.45],[1991.87,-2.05],[1991.91,-1.55],
[1992.20,-1.30],[1992.24,-1.65],[1992.28,-1.50],[1992.32,-1.85],[1992.36,-1.40],[1992.40,-1.70],[1992.44,-1.25],[1992.48,-1.55],[1992.52,-1.90],
[1992.76,-1.10],[1992.82,-1.45],[1992.88,-1.30],[1992.94,-1.80],[1993.00,-0.90],[1993.06,-1.60],[1993.12,-2.00],[1993.18,-1.35],[1993.24,-1.70],[1993.30,-1.20],[1993.34,-2.10],[1993.38,-1.50],
[1993.56,-1.20],[1993.61,-1.55],[1993.66,-1.00],[1993.71,-1.75],[1993.76,-1.40],[1993.81,-1.30],[1993.86,-1.60],
[1994.02,-0.85],[1994.07,-1.30],[1994.12,-1.05],[1994.17,-1.60],[1994.22,-0.70],[1994.27,-1.45],[1994.32,-1.20],[1994.37,-1.80],[1994.42,-0.95],[1994.46,-1.35],[1994.50,-1.10],
[1994.66,-1.00],[1994.71,-1.40],[1994.76,-1.20],[1994.81,-1.55],[1994.86,-0.90],[1994.91,-1.30],[1994.96,-1.65],
[1995.16,-0.60],[1995.20,-1.05],[1995.24,-0.85],[1995.28,-1.30],[1995.32,-0.70],[1995.36,-1.50],[1995.40,-1.15],[1995.44,-0.95],[1995.48,-1.60],[1995.52,-2.00],
[1995.72,-1.05],[1995.78,-1.30],[1995.84,-0.90],[1995.90,-1.20],[1995.96,-1.40],
[1996.10,-0.55],[1996.15,-0.95],[1996.20,-0.70],[1996.25,-1.10],[1996.30,-0.50],[1996.35,-0.85],[1996.40,-1.25],[1996.44,-0.75],[1996.48,-1.00],[1996.52,-1.90],
[1996.76,-1.00],[1996.82,-1.30],[1996.88,-0.80],[1996.94,-1.15],
[1997.10,-0.75],[1997.16,-1.10],[1997.22,-0.90],[1997.28,-1.30],[1997.34,-0.60],[1997.40,-1.00],[1997.46,-1.20],[1997.52,-0.85],[1997.58,-1.40],
[1997.82,-1.10],[1997.90,-0.90],[1997.98,-1.30],
[1998.20,-0.90],[1998.25,-1.35],[1998.30,-1.10],[1998.35,-1.60],[1998.40,-0.80],[1998.45,-1.25],[1998.50,-1.50],[1998.55,-1.00],[1998.60,-1.70],[1998.65,-1.40],
[1998.86,-1.20],[1998.94,-1.50],
[1999.10,-0.70],[1999.15,-1.20],[1999.20,-0.95],[1999.25,-1.50],[1999.30,-1.10],[1999.35,-1.35],[1999.40,-0.85],[1999.45,-1.65],[1999.50,-1.25],[1999.55,-1.00],
[1999.82,-1.30],[1999.90,-1.05],[1999.98,-1.50],
[2000.10,-0.85],[2000.15,-1.30],[2000.20,-1.05],[2000.25,-1.60],[2000.30,-0.90],[2000.35,-1.45],[2000.40,-1.20],[2000.45,-1.75],[2000.50,-2.00],[2000.55,-1.35],
[2000.80,-1.15],[2000.88,-1.40],[2000.96,-0.95],
[2001.20,-0.75],[2001.25,-1.20],[2001.30,-0.95],[2001.35,-1.50],[2001.40,-0.85],[2001.45,-1.35],[2001.50,-1.10],[2001.54,-1.85],[2001.58,-1.60],[2001.62,-1.00],[2001.56,-1.98],
[2002.30,-0.45],[2002.35,-0.90],[2002.40,-0.70],[2002.45,-1.20],[2002.50,-0.60],[2002.55,-1.05],[2002.60,-1.40],[2002.65,-0.80],[2002.70,-1.60],[2002.75,-1.30],
[2003.00,-0.70],[2003.06,-1.10],[2003.12,-0.85],[2003.18,-1.35],[2003.24,-0.95],[2003.30,-1.20],[2003.36,-0.60],[2003.42,-1.50],[2003.48,-1.00],[2003.54,-1.25],
[2004.10,-0.55],[2004.16,-1.00],[2004.22,-0.80],[2004.28,-1.30],[2004.34,-0.65],[2004.40,-1.15],[2004.46,-0.90],[2004.52,-1.45],[2004.58,-1.05],
[2005.02,-0.80],[2005.09,-1.20],[2005.16,-1.00],[2005.23,-1.50],[2005.30,-0.90],[2005.37,-1.35],[2005.44,-1.65],[2005.51,-1.10],[2005.58,-1.80],[2005.65,-1.25]];

const LD_WVMS = [
[1992.72,0.25],[1992.80,0.15],[1992.88,0.05],[1992.95,0.20],
[1993.08,-0.05],[1993.12,-0.20],[1993.16,-0.40],[1993.20,-0.55],[1993.25,-0.75],[1993.30,-0.90],[1993.35,-0.30],[1993.40,-0.15],
[1993.80,0.20],[1993.85,-0.30],[1993.90,0.05],[1993.95,-0.60],[1993.98,-1.30],[1994.02,1.55],[1994.06,-0.10],
[1994.12,0.30],[1994.17,-0.05],[1994.22,0.60],[1994.27,0.15],[1994.32,1.15],[1994.37,0.40],[1994.42,0.00],[1994.47,0.80],
[1994.52,0.45],[1994.58,0.10],[1994.64,0.70],[1994.70,0.25],[1994.76,1.00],[1994.82,0.35],[1994.88,-0.05],[1994.94,0.55],
[1995.02,0.60],[1995.08,0.20],[1995.14,0.85],[1995.20,0.40],[1995.26,0.05],[1995.32,0.70],[1995.38,0.30],[1995.44,0.95],
[1995.52,0.45],[1995.58,1.80],[1995.64,0.15],[1995.70,0.60],[1995.76,1.30],[1995.82,0.35],[1995.88,0.75],[1995.94,0.10],
[1996.02,0.50],[1996.08,0.20],[1996.14,0.65],[1996.20,0.00],[1996.26,0.35],[1996.32,1.85],[1996.38,0.55],[1996.44,-0.15],
[1996.52,0.30],[1996.58,0.60],[1996.64,0.05],[1996.70,0.45],[1996.76,0.20],[1996.82,0.55],[1996.88,-0.10],[1996.94,0.35],
[1997.02,0.70],[1997.08,2.05],[1997.14,1.00],[1997.20,0.50],[1997.24,2.00],[1997.30,0.85],[1997.36,0.60],[1997.42,1.10],
[1997.52,0.40],[1997.58,-0.70],[1997.64,0.15],[1997.70,0.55],[1997.76,-0.20],[1997.82,0.30],[1997.88,0.00],[1997.94,0.45],
[1998.02,0.35],[1998.08,0.10],[1998.14,0.50],[1998.20,-0.30],[1998.26,0.25],[1998.32,0.60],[1998.38,0.00],[1998.44,0.40],
[1998.52,0.50],[1998.58,0.20],[1998.64,0.65],[1998.70,0.35],[1998.76,0.75],[1998.82,0.10],[1998.88,0.45],[1998.94,0.30],
[1999.02,0.55],[1999.08,0.25],[1999.14,0.70],[1999.20,0.40],[1999.26,0.95],[1999.32,0.15],[1999.38,0.60],[1999.44,0.35],
[1999.52,0.45],[1999.58,0.20],[1999.64,0.60],[1999.70,0.30],[1999.76,0.80],[1999.82,0.05],[1999.88,0.50],[1999.94,0.35],
[2000.02,0.25],[2000.08,-0.50],[2000.14,0.40],[2000.20,0.10],[2000.26,0.55],[2000.32,-0.20],[2000.38,0.30],[2000.44,0.15],
[2000.52,1.30],[2000.58,0.60],[2000.64,0.90],[2000.70,0.35],[2000.76,1.00],[2000.82,0.50],[2000.88,0.75],[2000.94,0.20],
[2001.02,0.80],[2001.08,1.10],[2001.14,0.55],[2001.20,0.95],[2001.26,0.30],[2001.32,0.70],[2001.38,1.05],[2001.44,0.45],
[2001.50,1.90],[2001.52,1.50],[2001.56,-0.25],[2001.60,-0.80],[2001.66,0.90],[2001.72,0.60],[2001.80,1.10],[2001.88,0.75],[2001.94,0.40],
[2002.02,0.65],[2002.08,0.90],[2002.14,0.40],[2002.20,1.00],[2002.26,0.25],[2002.32,0.55],[2002.38,0.80],[2002.44,0.15],
[2002.52,0.30],[2002.58,0.05],[2002.64,0.45],[2002.70,-0.10],[2002.76,0.20],[2002.82,0.00],[2002.88,0.35],[2002.94,-0.25],
[2003.02,0.25],[2003.08,1.20],[2003.14,0.50],[2003.20,0.05],[2003.26,0.40],[2003.32,0.70],[2003.38,0.15],[2003.44,0.60],
[2003.52,0.30],[2003.58,0.55],[2003.64,0.10],[2003.70,0.45],[2003.76,0.75],[2003.82,0.20],[2003.88,0.35],[2003.94,0.00],
[2004.02,0.50],[2004.08,0.80],[2004.14,0.25],[2004.20,0.60],[2004.26,0.95],[2004.32,0.35],[2004.38,0.70],[2004.44,0.15],
[2004.52,0.40],[2004.58,0.65],[2004.64,0.20],[2004.70,0.85],[2004.76,0.30],[2004.82,0.55],[2004.88,0.10],[2004.94,0.45],
[2005.02,0.30],[2005.08,-0.45],[2005.14,1.40],[2005.20,0.50],[2005.26,0.10],[2005.32,0.70],[2005.38,-0.20],[2005.44,0.35],
[2005.52,0.20],[2005.58,0.55],[2005.64,-0.05],[2005.70,0.40],[2005.76,0.75],[2005.82,0.15],[2005.88,0.30],[2005.94,-0.50],
[2006.02,0.45],[2006.08,1.80],[2006.14,0.20],[2006.20,0.65],[2006.26,0.05],[2006.32,0.50],[2006.38,0.30],[2006.44,0.80],
[2006.52,0.35],[2006.58,0.60],[2006.64,0.10],[2006.70,0.45],[2006.76,0.25],[2006.82,0.70],[2006.88,-0.10],[2006.94,0.40],
[2007.02,0.50],[2007.08,0.20],[2007.14,0.75],[2007.20,0.35],[2007.26,1.35],[2007.32,0.55],[2007.38,0.05],[2007.44,0.40],
[2007.52,0.30],[2007.58,0.60],[2007.64,0.15],[2007.70,0.45],[2007.76,0.80],[2007.82,0.25],[2007.88,0.50],[2007.94,0.00],
[2008.02,0.55],[2008.08,0.30],[2008.14,1.85],[2008.20,0.70],[2008.26,0.40],[2008.32,0.85],[2008.38,0.20],[2008.44,0.60],
[2008.52,0.45],[2008.58,0.15],[2008.64,0.60],[2008.70,0.30],[2008.76,0.75],[2008.82,0.05],[2008.88,0.50],[2008.94,0.25],
[2009.02,0.55],[2009.08,0.30],[2009.14,0.80],[2009.20,0.45],[2009.26,0.15],[2009.32,0.65],[2009.38,0.40],[2009.44,0.90],
[2009.52,0.60],[2009.58,1.70],[2009.64,0.35],[2009.70,0.75],[2009.76,0.50],[2009.82,0.20],[2009.88,0.65],[2009.94,0.40],
[2010.02,0.30],[2010.08,0.05],[2010.14,0.45],[2010.20,-0.10],[2010.26,0.20],[2010.32,0.50],[2010.38,1.55],[2010.44,0.10],
[2010.52,-0.15],[2010.58,0.25],[2010.64,0.00],[2010.70,0.35],[2010.76,-0.25],[2010.82,0.15],[2010.88,0.40],[2010.94,0.05],
[2011.02,0.20],[2011.08,0.50],[2011.14,0.05],[2011.20,0.35],[2011.26,0.60],[2011.32,0.15],[2011.38,0.40],[2011.44,0.25],
[2011.52,0.45],[2011.58,1.40],[2011.64,0.30],[2011.70,0.60],[2011.76,0.10],[2011.82,0.50],[2011.88,0.25],[2011.94,0.70],
[2012.26,0.50],[2012.34,0.80],[2012.40,0.35],[2012.46,0.65],
[2012.52,0.55],[2012.58,0.90],[2012.64,0.40],[2012.70,0.70],[2012.76,1.05],[2012.82,0.30],[2012.88,0.60],[2012.94,0.85],
[2013.02,0.75],[2013.08,2.05],[2013.14,1.00],[2013.20,0.55],[2013.26,1.70],[2013.32,0.85],[2013.38,1.20],[2013.44,0.65],[2013.48,2.05],
[2013.52,0.90],[2013.58,0.50],[2013.64,1.10],[2013.70,0.70],[2013.76,1.30],[2013.82,0.60],[2013.88,0.95],[2013.94,0.40],
[2014.02,0.80],[2014.08,0.45],[2014.14,1.00],[2014.20,0.60],[2014.26,0.30],[2014.32,0.85],[2014.38,0.55],[2014.44,1.15],
[2014.48,-0.45],[2014.56,0.70],[2014.62,0.20],[2014.68,0.55],[2014.74,-0.10],[2014.80,0.40],[2014.86,0.85],[2014.92,0.30],
[2015.02,0.60],[2015.08,1.35],[2015.14,0.35],[2015.20,0.90],[2015.26,0.20],[2015.32,0.75],[2015.38,0.50],[2015.44,1.05],
[2015.52,-0.25],[2015.58,0.55],[2015.64,0.30],[2015.70,0.80],[2015.76,0.45],[2015.82,0.65],[2015.88,0.10],[2015.94,0.95],
[2016.02,0.70],[2016.08,1.35],[2016.14,0.45],[2016.20,0.85],[2016.26,0.30],[2016.32,0.60],[2016.38,1.00],[2016.44,0.50],
[2016.52,0.65],[2016.58,0.40],[2016.64,0.90],[2016.70,0.55],[2016.76,0.25],[2016.82,0.75],[2016.88,1.05],[2016.94,0.45],
[2017.02,0.60],[2017.08,0.85],[2017.14,0.35],[2017.20,0.70],[2017.26,1.00],[2017.32,0.50],[2017.38,0.80],[2017.44,0.40],
[2017.52,0.75],[2017.58,1.05],[2017.64,0.50],[2017.70,0.90],[2017.76,0.30],[2017.82,0.65],[2017.88,1.10],[2017.94,0.55],
[2018.02,0.60],[2018.08,0.85],[2018.14,0.40],[2018.20,1.00],[2018.26,0.70],[2018.32,0.30],[2018.38,0.90],[2018.44,0.50],
[2018.46,-0.25],[2018.58,0.55],[2018.64,0.80],[2018.70,0.35],[2018.76,0.95],[2018.82,0.60],[2018.88,0.20],[2018.94,0.75],
[2019.02,0.85],[2019.08,0.50],[2019.14,1.05],[2019.20,0.65],[2019.26,0.35],[2019.32,0.90],[2019.46,2.00],[2019.40,0.60],
[2019.52,0.70],[2019.58,0.45],[2019.64,0.95],[2019.70,0.30],[2019.76,0.80],[2019.82,0.55],[2019.88,0.15],[2019.94,0.65],
[2020.02,0.40],[2020.08,0.75],[2020.14,0.20],[2020.20,0.60],[2020.26,0.35],[2020.32,0.90],[2020.38,0.10],[2020.44,0.50],
[2020.60,-0.90],[2020.56,0.45],[2020.64,0.25],[2020.70,0.70],[2020.76,0.00],[2020.82,0.55],[2020.88,0.35],[2020.94,0.15],
[2021.02,0.50],[2021.08,0.25],[2021.14,0.75],[2021.20,0.40],[2021.26,0.10],[2021.32,0.60],[2021.38,0.30],[2021.44,0.85],
[2021.46,-0.30],[2021.58,0.45],[2021.64,0.20],[2021.70,0.65],[2021.76,0.35],[2021.82,0.80],[2021.88,0.10],[2021.94,0.50],
[2022.02,0.40],[2022.08,0.70],[2022.14,0.25],[2022.20,0.60],[2022.26,0.90],[2022.32,0.35],[2022.38,0.55],[2022.44,0.15],
[2022.52,1.00],[2022.58,1.30],[2022.64,0.80],[2022.70,1.15],[2022.76,0.95],[2022.82,1.40],[2022.88,0.70],[2022.94,1.10],
[2023.02,0.90],[2023.08,1.20],[2023.14,0.75],[2023.20,1.05],[2023.26,0.60],[2023.32,1.30],[2023.38,0.85],[2023.44,1.00],
[2023.52,1.60],[2023.57,1.95],[2023.62,1.80],[2023.67,2.10],[2023.72,1.55],[2023.77,2.20],[2023.82,1.90],[2023.87,2.00],[2023.92,1.75],[2023.97,2.15]];

const LD_MLS = [
0.00,-0.15,0.10,-0.05,
-0.20,0.05,-0.10,0.15,-0.25,0.00,-0.15,0.10,-0.05,-0.20,
0.05,-0.10,0.15,-0.20,0.42,0.00,-0.15,0.10,-0.25,0.05,
-0.10,0.15,-0.20,0.00,0.10,-0.15,0.05,-0.25,0.10,-0.05,
0.10,-0.10,0.20,0.00,0.68,-0.15,0.05,-0.20,0.15,-0.05,
0.00,0.15,-0.10,0.10,-0.20,0.05,0.20,-0.05,0.10,-0.15,
0.05,-0.10,0.15,-0.25,0.00,0.10,-0.15,0.05,-0.30,0.10,
-0.05,0.15,-0.20,0.05,0.20,-0.10,0.00,0.25,-0.15,0.10,
0.20,0.05,0.30,-0.10,0.15,0.35,0.00,0.25,-0.05,0.20,
0.10,0.30,-0.05,0.20,0.35,0.05,0.75,0.15,0.30,0.00,
0.20,0.05,0.25,-0.10,0.15,0.30,0.00,0.10,-0.15,0.20,
0.05,-0.15,0.68,-0.30,-0.45,-0.25,-0.55,-0.20,-0.10,0.05,
-0.10,0.10,-0.05,0.15,0.00,0.83,-0.15,0.05,0.20,-0.05,
0.10,0.20,0.00,0.15,-0.10,0.25,0.05,0.30,0.10,0.20,
0.15,-0.05,0.25,0.90,0.10,0.30,0.45,0.25,0.40,0.20,
0.35,0.15,0.30,0.05,0.50,0.90,0.20,0.00,0.15,-0.05,
0.10,0.25,-0.10,0.20,0.05,0.30,0.80,0.10,-0.05,0.20,
0.05,0.20,-0.10,0.15,0.30,0.00,0.20,-0.15,0.10,0.25,
0.00,0.20,0.10,0.30,1.00,0.35,0.45,0.40,0.55,0.50,
0.60,0.70,0.65,0.20,0.80,1.30,1.55,1.70,1.45,1.60,
1.50];

// Additional scattered MLS profiles at Lauder (right axis)
const LD_MLS_SCATTER = [
[2005.35,-0.40],[2006.05,-0.45],[2006.75,0.35],[2007.35,-0.50],[2007.90,0.30],[2008.70,-0.35],[2009.30,0.40],
[2009.85,-0.40],[2010.55,0.35],[2010.95,-0.40],[2011.45,0.45],[2011.80,-0.35],[2012.45,0.50],[2013.55,1.20],
[2013.70,1.05],[2013.90,0.55],[2014.35,-0.30],[2014.80,0.45],[2015.45,-0.65],[2015.65,-0.50],[2016.20,-0.35],
[2016.90,0.40],[2017.45,-0.30],[2017.85,0.50],[2018.60,0.60],[2019.15,0.60],[2019.80,-0.30],[2020.35,0.55],
[2020.75,0.85],[2021.30,-0.35],[2021.65,0.45],[2022.15,-0.45],[2022.75,0.80],[2023.05,0.35],[2023.65,1.10],[2023.85,1.75]];

// ---------------------------------------------------------------------------
const COLORS = { wvms: "#0000ff", wvms5: "#22d6e2", haloe: "#1ea51e", mls: "#ff0000",
                 meanLine: "#4b4bff", grid: "#444", axis: "#000" };

const PANELS = [
  { title: STATIONS[0], top: 24,  haloe: TM_HALOE, wvms: TM_WVMS, wvms5: [], mls: TM_MLS, mlsExtra: [],
    wvmsLabel: WVMS_LABELS[0], mean: WVMS_MEANS[0] },
  { title: STATIONS[1], top: 239, haloe: ML_HALOE, wvms: ML_WVMS6, wvms5: ML_WVMS5, mls: ML_MLS, mlsExtra: [],
    wvmsLabel: WVMS_LABELS[1], mean: WVMS_MEANS[1] },
  { title: STATIONS[2], top: 452, haloe: LD_HALOE, wvms: LD_WVMS, wvms5: [], mls: LD_MLS, mlsExtra: LD_MLS_SCATTER,
    wvmsLabel: WVMS_LABELS[2], mean: WVMS_MEANS[2] }
];

const PLOT_LEFT = 58, PLOT_RIGHT = 884, PLOT_H = 160;
const svg = d3.select("#chart");
const x = d3.scaleLinear().domain([1991.46, 2024.45]).range([PLOT_LEFT, PLOT_RIGHT]);

const yearTicks = d3.range(1992, 2025);
const leftMinor = d3.range(-20, 31).map(i => i / 10);
const rightMinor = d3.range(-10, 41).map(i => i / 10);

function styleAxis(g, color, size) {
  g.attr("font-family", null).attr("font-size", null);
  g.selectAll("path.domain").attr("stroke", color);
  g.selectAll(".tick line").attr("stroke", color);
  g.selectAll(".tick text").attr("fill", color).style("font-size", size + "px").style("font-weight", "bold");
}

PANELS.forEach(p => {
  const top = p.top, bottom = p.top + PLOT_H;
  const yL = d3.scaleLinear().domain([-2, 3]).range([bottom, top]);
  const yR = d3.scaleLinear().domain([-1, 4]).range([bottom, top]);
  const g = svg.append("g");

  // dotted horizontal grid
  g.append("g").selectAll("line").data(GRID_LEVELS).join("line")
    .attr("x1", PLOT_LEFT).attr("x2", PLOT_RIGHT)
    .attr("y1", d => yL(d)).attr("y2", d => yL(d))
    .attr("stroke", COLORS.grid).attr("stroke-width", 1).attr("stroke-dasharray", "2,4");

  // top frame (dotted) with yearly ticks
  g.append("line").attr("x1", PLOT_LEFT).attr("x2", PLOT_RIGHT).attr("y1", top + 0.5).attr("y2", top + 0.5)
    .attr("stroke", "#333").attr("stroke-dasharray", "3,3");
  const topAxis = g.append("g").attr("transform", `translate(0,${top})`)
    .call(d3.axisTop(x).tickValues(yearTicks).tickSizeInner(-4).tickSizeOuter(0).tickFormat(""));
  topAxis.select("path.domain").remove();
  topAxis.selectAll(".tick line").attr("stroke", "#333");

  // reference lines
  g.append("line").attr("x1", PLOT_LEFT).attr("x2", PLOT_RIGHT)
    .attr("y1", yL(p.mean)).attr("y2", yL(p.mean))
    .attr("stroke", COLORS.meanLine).attr("stroke-width", 1.6);
  g.append("line").attr("x1", PLOT_LEFT).attr("x2", PLOT_RIGHT)
    .attr("y1", yR(MLS_REFERENCE)).attr("y2", yR(MLS_REFERENCE))
    .attr("stroke", COLORS.mls).attr("stroke-width", 2.2);

  // HALOE (green squares)
  const hs = 4.4;
  g.append("g").selectAll("rect").data(p.haloe).join("rect")
    .attr("x", d => x(d[0]) - hs / 2).attr("y", d => yL(d[1]) - hs / 2)
    .attr("width", hs).attr("height", hs).attr("fill", COLORS.haloe);

  // WVMS (blue squares)
  const ws = 4;
  g.append("g").selectAll("rect").data(p.wvms).join("rect")
    .attr("x", d => x(d[0]) - ws / 2).attr("y", d => yL(d[1]) - ws / 2)
    .attr("width", ws).attr("height", ws).attr("fill", COLORS.wvms);

  // WVMS5 (cyan squares, Mauna Loa)
  g.append("g").selectAll("rect").data(p.wvms5).join("rect")
    .attr("x", d => x(d[0]) - ws / 2).attr("y", d => yL(d[1]) - ws / 2)
    .attr("width", ws).attr("height", ws).attr("fill", COLORS.wvms5);

  // MLS (red plus markers, right axis)
  const mlsPts = MLS_DATES.slice(0, p.mls.length).map((t, i) => [t, p.mls[i]]).concat(p.mlsExtra);
  const m = 2.8;
  g.append("g").selectAll("path").data(mlsPts).join("path")
    .attr("d", d => {
      const cx = x(d[0]), cy = yR(d[1]);
      return `M${cx - m},${cy}H${cx + m}M${cx},${cy - m}V${cy + m}`;
    })
    .attr("stroke", COLORS.mls).attr("stroke-width", 1.7).attr("fill", "none");

  // left axis (WVMS)
  const la = g.append("g").attr("transform", `translate(${PLOT_LEFT},0)`);
  la.append("g").call(d3.axisLeft(yL).tickValues(leftMinor).tickSizeInner(-8).tickSizeOuter(0).tickFormat(""))
    .call(a => { a.select("path.domain").remove(); a.selectAll(".tick line").attr("stroke", COLORS.wvms).attr("stroke-width", 0.8); });
  const lMajor = la.append("g").call(d3.axisLeft(yL).tickValues(LEFT_TICKS).tickSizeInner(-14).tickSizeOuter(0).tickPadding(4).tickFormat(d3.format("d")));
  styleAxis(lMajor, COLORS.wvms, 17);
  lMajor.select("path.domain").attr("stroke-width", 2);

  // right axis (MLS)
  const ra = g.append("g").attr("transform", `translate(${PLOT_RIGHT},0)`);
  ra.append("g").call(d3.axisRight(yR).tickValues(rightMinor).tickSizeInner(-8).tickSizeOuter(0).tickFormat(""))
    .call(a => { a.select("path.domain").remove(); a.selectAll(".tick line").attr("stroke", COLORS.mls).attr("stroke-width", 0.8); });
  const rMajor = ra.append("g").call(d3.axisRight(yR).tickValues(RIGHT_TICKS).tickSizeInner(-14).tickSizeOuter(0).tickPadding(6).tickFormat(d3.format("d")));
  styleAxis(rMajor, COLORS.mls, 17);
  rMajor.select("path.domain").attr("stroke-width", 2);

  // bottom axis (years)
  const ba = g.append("g").attr("transform", `translate(0,${bottom})`);
  ba.append("g").call(d3.axisBottom(x).tickValues(yearTicks).tickSizeInner(-5).tickSizeOuter(0).tickFormat(""))
    .call(a => { a.select("path.domain").remove(); a.selectAll(".tick line").attr("stroke", COLORS.axis); });
  const bMajor = ba.append("g").call(d3.axisBottom(x).tickValues(X_TICKS).tickSizeInner(-9).tickSizeOuter(0).tickPadding(12).tickFormat(d3.format("d")));
  styleAxis(bMajor, "#111", 16.5);

  // station title
  svg.append("text").attr("x", 471).attr("y", top - 6).attr("text-anchor", "middle")
    .style("font-size", "12px").attr("fill", "#222").text(p.title);

  // series labels
  const ly = top + 33;
  svg.append("text").attr("x", 97).attr("y", ly).attr("fill", COLORS.haloe).style("font-size", "17px").text("HALOE(adj.)");
  svg.append("text").attr("x", 322).attr("y", ly).attr("fill", COLORS.wvms).style("font-size", "17px").text(p.wvmsLabel);
  svg.append("text").attr("x", 447).attr("y", ly).attr("fill", COLORS.mls).style("font-size", "17px").text("MLS");
  if (p.wvms5.length) {
    svg.append("text").attr("x", 858).attr("y", top + 31).attr("text-anchor", "end")
      .attr("fill", COLORS.wvms5).style("font-size", "17px").text("WVMS5");
  }

  // axis titles
  const mid = top + PLOT_H / 2;
  const lt = svg.append("text").attr("transform", `translate(28,${mid}) rotate(-90)`)
    .attr("text-anchor", "middle").attr("fill", COLORS.wvms).style("font-size", "16px");
  lt.append("tspan").text("WVMS H");
  lt.append("tspan").text("2").style("font-size", "11px").attr("dy", 4);
  lt.append("tspan").text("O(ppmv)").attr("dy", -4);

  const rt = svg.append("text").attr("transform", `translate(916,${mid}) rotate(-90)`)
    .attr("text-anchor", "middle").attr("fill", COLORS.mls).style("font-size", "16px");
  rt.append("tspan").text("MLS H");
  rt.append("tspan").text("2").style("font-size", "11px").attr("dy", 4);
  rt.append("tspan").text("O(ppmv)").attr("dy", -4);
});
</script>
</body>
</html>
